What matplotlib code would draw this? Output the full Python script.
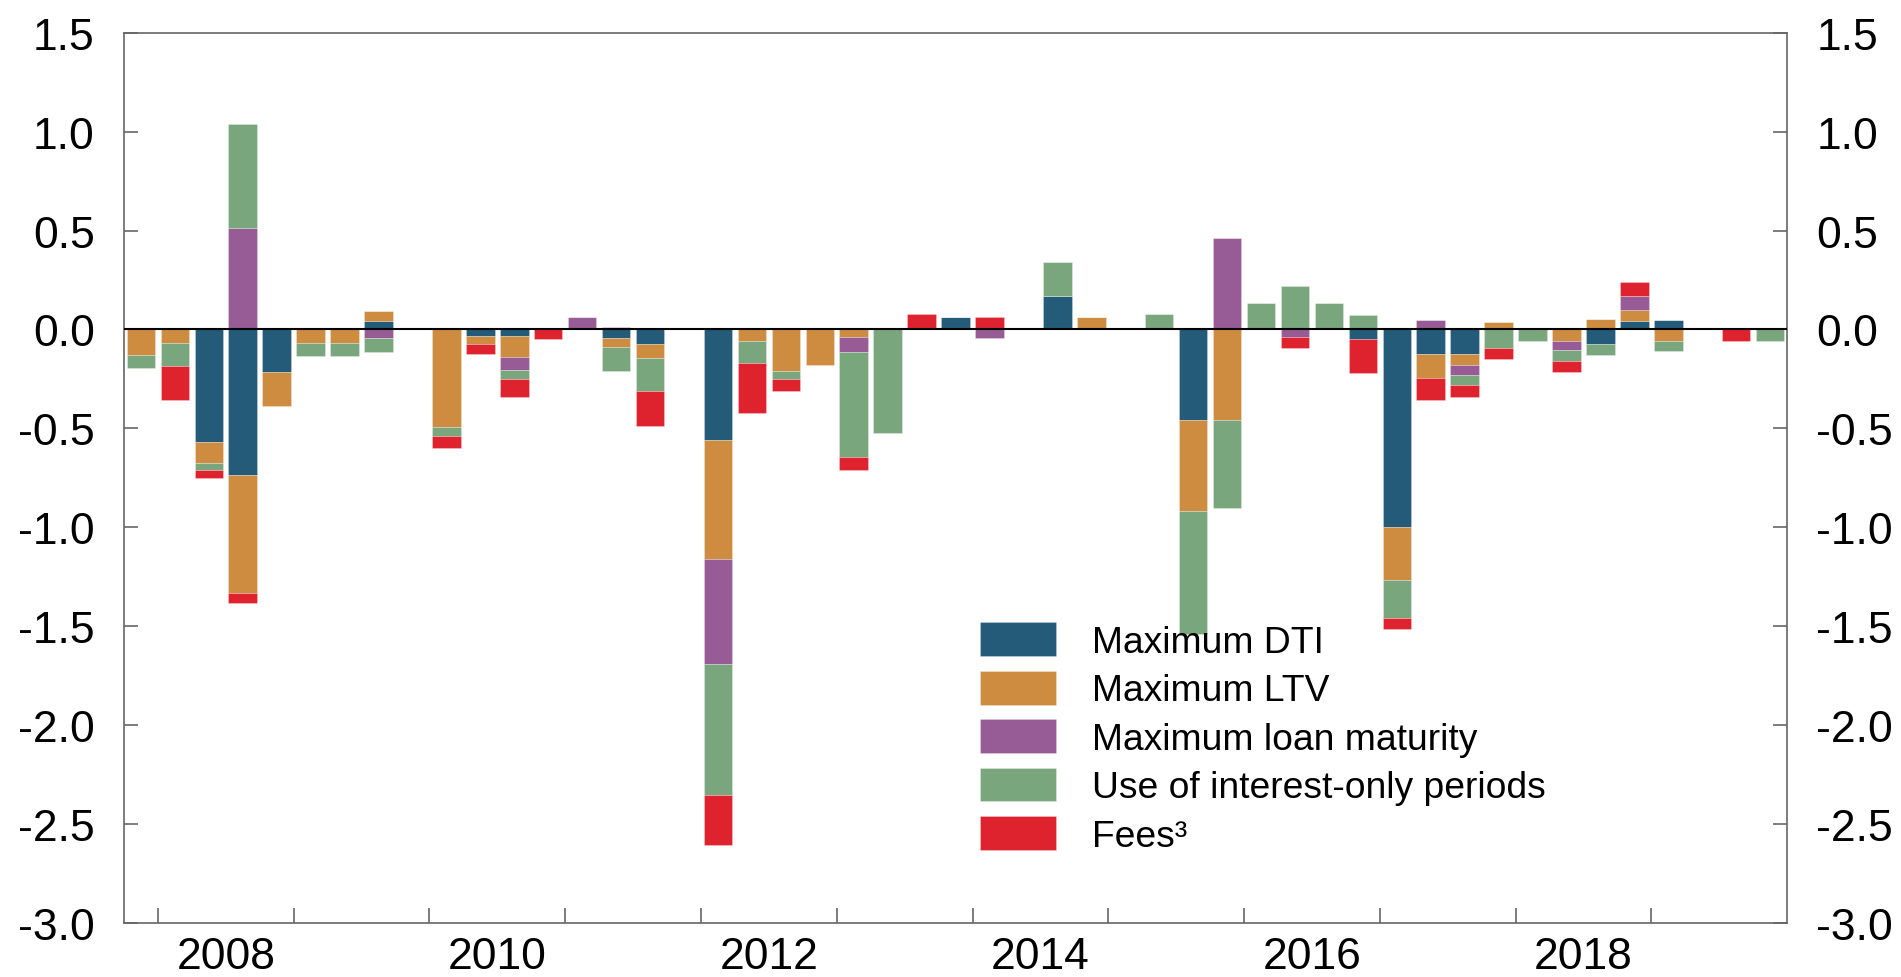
import numpy as np
import matplotlib
matplotlib.use("Agg")
import matplotlib.pyplot as plt

plt.rcParams['font.family'] = ['Liberation Sans', 'DejaVu Sans']
plt.rcParams['axes.unicode_minus'] = False

# quarters 2007Q4 .. 2019Q4
quarters = [f"{y}Q{q}" for y in range(2007, 2020) for q in range(1, 5)][3:]

dti = [0, 0, -0.567, -0.735, -0.217, 0, 0, 0.044, 0,
       0, -0.035, -0.035, 0, 0, -0.044, -0.072, 0,
       -0.557, 0, 0, 0, 0, 0, 0, 0.061,
       0, 0, 0.17, 0, 0, 0, -0.458, 0,
       0, 0, 0, -0.05, -1.0, -0.126, -0.126, 0,
       0, 0, -0.072, 0.045, 0.049, 0, 0, 0]
ltv = [-0.13, -0.066, -0.106, -0.597, -0.172, -0.066, -0.066, 0.049, 0,
       -0.495, -0.039, -0.103, 0, 0, -0.044, -0.074, 0,
       -0.603, -0.056, -0.209, -0.177, -0.037, 0, 0, 0,
       0, 0, 0, 0.062, 0, 0, -0.459, -0.458,
       0, 0, 0, 0, -0.268, -0.121, -0.051, 0.039,
       0, -0.056, 0.054, 0.053, -0.056, 0, 0, 0]
maturity = [0, 0, 0, 0.513, 0, 0, 0, -0.044, 0,
            0, 0, -0.069, 0, 0.061, 0.013, 0, 0,
            -0.53, 0, 0, 0, -0.077, 0, 0, 0,
            -0.042, 0, 0, 0, 0, 0, 0, 0.461,
            0, -0.038, 0, 0, 0, 0.05, -0.052, 0,
            0, -0.05, 0, 0.069, 0, 0, 0, 0]
interest_only = [-0.067, -0.118, -0.036, 0.524, 0, -0.067, -0.067, -0.069, 0,
                 -0.045, 0, -0.043, 0, 0, -0.124, -0.164, 0,
                 -0.665, -0.112, -0.041, 0, -0.532, -0.525, 0, 0,
                 0, 0, 0.173, 0, 0, 0.077, -0.623, -0.442,
                 0.133, 0.221, 0.133, 0.074, -0.188, 0, -0.05, -0.091,
                 -0.059, -0.051, -0.058, 0, -0.053, 0, 0, -0.059]
fees = [0, -0.173, -0.042, -0.048, 0, 0, 0, 0, 0,
        -0.06, -0.051, -0.09, -0.049, 0, 0, -0.18, 0,
        -0.25, -0.255, -0.063, 0, -0.064, 0, 0.077, 0,
        0.061, 0, 0, 0, 0, 0, 0, 0,
        0, -0.056, 0, -0.169, -0.059, -0.11, -0.063, -0.059,
        0, -0.058, 0, 0.074, 0, 0, -0.056, 0]

labels = ["Maximum DTI", "Maximum LTV", "Maximum loan maturity",
          "Use of interest-only periods", "Fees³"]
colors = ["#235B79", "#CE8C41", "#975B95", "#7AA67D", "#DE222E"]
year_labels = ["2008", "2010", "2012", "2014", "2016", "2018"]

x = 2007.75 + 0.125 + 0.25 * np.arange(len(quarters))

fig = plt.figure(figsize=(19.01, 9.78), dpi=100)
ax = fig.add_axes([0.0652, 0.0552, 0.9401 - 0.0652, 0.9655 - 0.0552])

pos_base = np.zeros(len(x))
neg_base = np.zeros(len(x))
for vals, lab, col in zip([dti, ltv, maturity, interest_only, fees], labels, colors):
    v = np.array(vals)
    bottom = np.where(v >= 0, pos_base, neg_base)
    ax.bar(x, v, bottom=bottom, width=0.21, color=col, label=lab,
           edgecolor=(1, 1, 1, 0.45), linewidth=0.4, zorder=2)
    pos_base += np.where(v > 0, v, 0)
    neg_base += np.where(v < 0, v, 0)

ax.axhline(0, color='black', lw=1.5, zorder=3)

ax.set_xlim(2007.75, 2020.0)
ax.set_ylim(-3.0, 1.5)
yt = np.arange(-3.0, 1.51, 0.5)
ax.set_yticks(yt)
ax.set_yticklabels([f"{v:.1f}" for v in yt])

ax.set_xticks(np.arange(2008, 2020))
ax.set_xticklabels([])
ax.set_xticks([int(y) + 0.5 for y in year_labels], minor=True)
ax.set_xticklabels(year_labels, minor=True)

ax.tick_params(axis='y', which='both', direction='in', length=10, width=1.2,
               color='#666666', labelsize=32, pad=21, left=True, right=True,
               labelleft=True, labelright=True)
ax.tick_params(axis='x', which='major', direction='in', length=11, width=1.2,
               color='#666666', top=False)
ax.tick_params(axis='x', which='minor', length=0, labelsize=32, pad=9)

for s in ax.spines.values():
    s.set_color('#666666')
    s.set_linewidth(1.2)

ax.legend(loc='upper left', bbox_to_anchor=(0.5155, 0.3627),
          bbox_transform=fig.transFigure, frameon=False, fontsize=26.8,
          handlelength=2.04, handleheight=1.02, handletextpad=0.96,
          labelspacing=0.29, borderpad=0, borderaxespad=0)

fig.savefig("out.png", dpi=100)
